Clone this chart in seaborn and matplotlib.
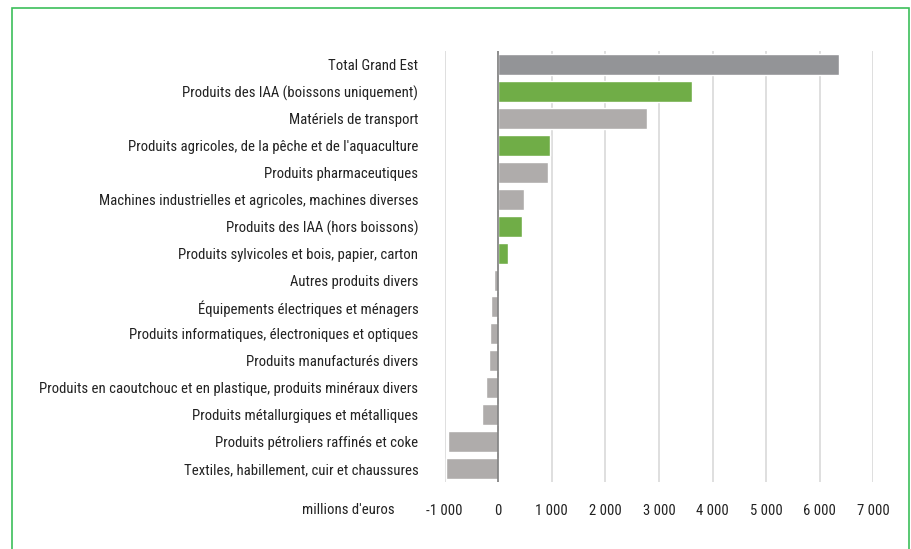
import numpy as np
import pandas as pd
import matplotlib.pyplot as plt
import matplotlib.patches as mpatches
from matplotlib import font_manager
import seaborn as sns

# data (millions d'euros)
categories = [
    "Total Grand Est",
    "Produits des IAA (boissons uniquement)",
    "Matériels de transport",
    "Produits agricoles, de la pêche et de l'aquaculture",
    "Produits pharmaceutiques",
    "Machines industrielles et agricoles, machines diverses",
    "Produits des IAA (hors boissons)",
    "Produits sylvicoles et bois, papier, carton",
    "Autres produits divers",
    "Équipements électriques et ménagers",
    "Produits informatiques, électroniques et optiques",
    "Produits manufacturés divers",
    "Produits en caoutchouc et en plastique, produits minéraux divers",
    "Produits métallurgiques et métalliques",
    "Produits pétroliers raffinés et coke",
    "Textiles, habillement, cuir et chaussures",
]
values = [6350, 3610, 2780, 965, 925, 480, 445, 180, -80, -135, -155, -175, -230, -305, -945, -980]
groups = ["total", "agri", "other", "agri", "other", "other", "agri", "agri",
          "other", "other", "other", "other", "other", "other", "other", "other"]
tick_values = [-1000, 0, 1000, 2000, 3000, 4000, 5000, 6000, 7000]
tick_labels = ["-1 000", "0", "1 000", "2 000", "3 000", "4 000", "5 000", "6 000", "7 000"]

group_colors = {"total": "#939497", "agri": "#70AD47", "other": "#AFACAB"}

sns.set_style("white")
installed = {f.name for f in font_manager.fontManager.ttflist}
narrow = [n for n in ["Liberation Sans Narrow", "Arial Narrow", "Roboto Condensed"] if n in installed]
plt.rcParams["font.family"] = narrow + ["Liberation Sans", "DejaVu Sans"]
fs = 10.6 if narrow else 9.6

df = pd.DataFrame({"categorie": categories, "valeur": values, "groupe": groups})

fig = plt.figure(figsize=(9.12, 5.49), dpi=100)
ax = fig.add_axes([0.4876, 0.122, 0.47, 0.785])

sns.barplot(data=df, x="valeur", y="categorie", hue="groupe", palette=group_colors,
            order=categories, dodge=False, legend=False, width=0.78, saturation=1, ax=ax)

ax.set_xlim(-1000, 7000)
ax.set_ylim(len(categories) - 0.5, -0.5)
ax.set_xticks(tick_values)
ax.set_xticklabels(tick_labels)
ax.xaxis.grid(True, color="#D9D9D9", linewidth=1.2)
ax.set_axisbelow(True)
ax.axvline(0, color="#7F7F7F", linewidth=1.2, zorder=3)
for s in ax.spines.values():
    s.set_visible(False)
ax.tick_params(axis="x", length=0, pad=16, labelsize=fs, labelcolor="#222222")
ax.tick_params(axis="y", length=0, pad=19, labelsize=fs, labelcolor="#222222")
ax.set_xlabel("")
ax.set_ylabel("")

fig.text(348 / 912, 1 - 510 / 549, "millions d'euros", ha="center", va="center",
         fontsize=fs, color="#222222")

fig.patches.append(mpatches.Rectangle((12 / 912, -0.01), (909 - 12) / 912, 1.01 - 8 / 549,
                                      transform=fig.transFigure, fill=False,
                                      edgecolor="#3CBF5A", linewidth=1.2))

fig.savefig("out.png", dpi=100)
